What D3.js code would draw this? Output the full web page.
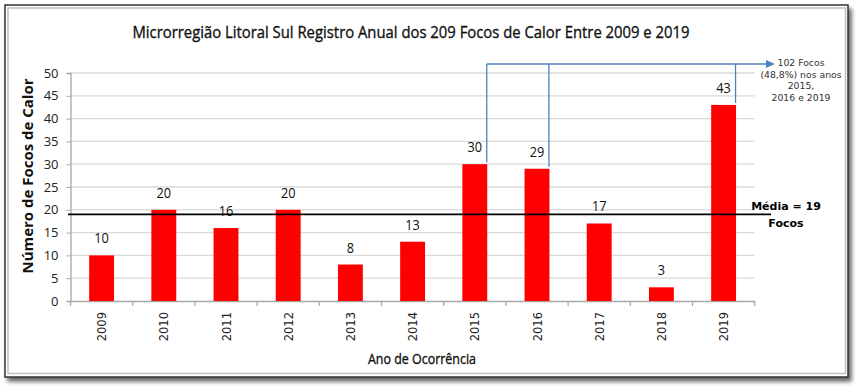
<!DOCTYPE html>
<html><head><meta charset="utf-8">
<script src="https://cdn.jsdelivr.net/npm/d3@7"></script>
<style>body{margin:0;background:#fff}svg{display:block}</style>
</head><body>
<script>
const years = ["2009","2010","2011","2012","2013","2014","2015","2016","2017","2018","2019"];
const focos = [10,20,16,20,8,13,30,29,17,3,43];
const yTicks = [0,5,10,15,20,25,30,35,40,45,50];
const mediaValue = 19;
const highlightYears = ["2015","2016","2019"];
const annotationLines = ["102 Focos","(48,8%) nos anos","2015,","2016 e 2019"];
const titleText = "Microrregião Litoral Sul Registro Anual dos 209 Focos de Calor Entre 2009 e 2019";

const W = 863, H = 391;
const svg = d3.select("body").append("svg").attr("width", W).attr("height", H);

// frame with shadow
const defs = svg.append("defs");
const f = defs.append("filter").attr("id","sh").attr("x","-5%").attr("y","-5%").attr("width","115%").attr("height","120%");
f.append("feGaussianBlur").attr("in","SourceAlpha").attr("stdDeviation",2);
f.append("feOffset").attr("dx",3).attr("dy",4).attr("result","o");
f.append("feComponentTransfer").append("feFuncA").attr("type","linear").attr("slope",0.6);
const fm = f.append("feMerge"); fm.append("feMergeNode"); fm.append("feMergeNode").attr("in","SourceGraphic");
svg.append("rect").attr("x",5).attr("y",5).attr("width",843).attr("height",372)
  .attr("fill","#fff").attr("stroke","#333").attr("stroke-width",1.5).attr("filter","url(#sh)");
svg.append("rect").attr("x",8).attr("y",8).attr("width",837.5).attr("height",365.5)
  .attr("fill","none").attr("stroke","#bfbfbf").attr("stroke-width",1.5);

const x = d3.scaleBand().domain(years).range([70.5, 754.7]).padding(0);
const y = d3.scaleLinear().domain([0,50]).range([301, 73]);
const barW = x.bandwidth()*0.4;

// gridlines
svg.append("g").selectAll("line").data(yTicks.filter(d=>d>0)).join("line")
  .attr("x1",70.5).attr("x2",754.7).attr("y1",d=>y(d)).attr("y2",d=>y(d))
  .attr("stroke","#d9d9d9").attr("stroke-width",1.3);

// y axis
const ya = svg.append("g").attr("transform","translate(70.5,0)")
  .call(d3.axisLeft(y).tickValues(yTicks).tickSize(4).tickPadding(8));
ya.select(".domain").attr("stroke","#a6a6a6").attr("stroke-width",1.3);
ya.selectAll(".tick line").attr("stroke","#a6a6a6");
ya.selectAll(".tick text").attr("font-family","Open Sans").attr("font-size",13).attr("fill","#222");

// x axis
const xa = svg.append("g").attr("transform","translate(0,301)")
  .call(d3.axisBottom(x).tickSize(0).tickFormat(""));
xa.select(".domain").attr("stroke","#a6a6a6").attr("stroke-width",1.3);
svg.append("g").selectAll("line").data(d3.range(years.length+1)).join("line")
  .attr("x1",i=>x.range()[0]+i*x.step()).attr("x2",i=>x.range()[0]+i*x.step())
  .attr("y1",301).attr("y2",306).attr("stroke","#a6a6a6").attr("stroke-width",1.2);
svg.append("g").selectAll("text").data(years).join("text")
  .attr("transform",d=>`translate(${x(d)+x.bandwidth()/2+4.5},312) rotate(-90)`)
  .attr("text-anchor","end").attr("font-family","DejaVu Sans").attr("font-size",11.5).attr("fill","#222")
  .text(d=>d);

// bars
svg.append("g").selectAll("rect").data(years).join("rect")
  .attr("x",d=>x(d)+x.bandwidth()/2-barW/2).attr("width",barW)
  .attr("y",(d,i)=>y(focos[i])).attr("height",(d,i)=>y(0)-y(focos[i]))
  .attr("fill","#ff0000");

// value labels
svg.append("g").selectAll("text").data(years).join("text")
  .attr("transform",(d,i)=>`translate(${x(d)+x.bandwidth()/2},${y(focos[i])-12}) scale(0.88,1)`)
  .attr("text-anchor","middle").attr("font-family","Open Sans").attr("font-size",14.5).attr("fill","#111")
  .text((d,i)=>focos[i]);

// mean line
svg.append("line").attr("x1",68).attr("x2",771).attr("y1",y(mediaValue)).attr("y2",y(mediaValue))
  .attr("stroke","#000").attr("stroke-width",1.6);
svg.append("text").attr("x",786).attr("y",210).attr("text-anchor","middle")
  .attr("font-family","DejaVu Sans").attr("font-weight","bold").attr("font-size",11).text("Média = "+mediaValue);
svg.append("text").attr("x",786).attr("y",227).attr("text-anchor","middle")
  .attr("font-family","DejaVu Sans").attr("font-weight","bold").attr("font-size",11).text("Focos");

// annotation
const blue = "#4f81bd";
const ay = 64;
highlightYears.forEach(yr=>{
  const i = years.indexOf(yr);
  const xr = x(yr)+x.bandwidth()/2+barW/2 - 0.5;
  svg.append("line").attr("x1",xr).attr("x2",xr).attr("y1",y(focos[i])-2).attr("y2",ay)
    .attr("stroke",blue).attr("stroke-width",1.3);
});
const x15 = x("2015")+x.bandwidth()/2+barW/2 - 0.5;
svg.append("line").attr("x1",x15).attr("x2",768).attr("y1",ay).attr("y2",ay).attr("stroke",blue).attr("stroke-width",1.3);
svg.append("path").attr("d",`M766,${ay-4}L775,${ay}L766,${ay+4}Z`).attr("fill",blue);
svg.append("g").selectAll("text").data(annotationLines).join("text")
  .attr("x",801).attr("y",(d,i)=>66+i*11.5).attr("text-anchor","middle")
  .attr("font-family","DejaVu Sans").attr("font-size",9.3).attr("fill","#333").text(d=>d);

// title
svg.append("text").attr("x",411).attr("y",38).attr("text-anchor","middle")
  .attr("font-family","Open Sans").attr("font-size",16.5).attr("fill","#111")
  .attr("stroke","#111").attr("stroke-width",0.35)
  .attr("textLength",557).attr("lengthAdjust","spacingAndGlyphs").text(titleText);

// axis titles
svg.append("text").attr("transform","translate(33,176) rotate(-90)").attr("text-anchor","middle")
  .attr("font-family","Open Sans").attr("font-weight","bold").attr("font-size",15).attr("fill","#111")
  .attr("textLength",195).attr("lengthAdjust","spacingAndGlyphs").text("Número de Focos de Calor");
svg.append("text").attr("x",422).attr("y",364).attr("text-anchor","middle")
  .attr("font-family","Open Sans").attr("font-size",14).attr("fill","#111")
  .attr("stroke","#111").attr("stroke-width",0.35)
  .attr("textLength",108).attr("lengthAdjust","spacingAndGlyphs").text("Ano de Ocorrência");
</script>
</body></html>
